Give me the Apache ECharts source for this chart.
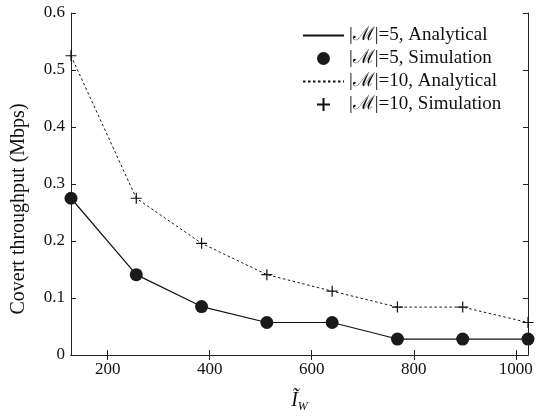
<!DOCTYPE html>
<html>
<head>
<meta charset="utf-8">
<script src="https://cdn.jsdelivr.net/npm/echarts@6/dist/echarts.min.js"></script>
<style>
  html, body { margin: 0; padding: 0; background: #fff; }
  #chart { width: 536px; height: 418px; }
</style>
</head>
<body>
<div id="chart"></div>
<script>
  // x values (I_w) and throughput values
  const xVals = [128, 256, 384, 512, 640, 768, 896, 1024]
  const m5 = [0.275, 0.141, 0.085, 0.057, 0.057, 0.028, 0.028, 0.028]
  const m10 = [0.525, 0.275, 0.196, 0.141, 0.112, 0.084, 0.084, 0.057]
  const xTicks = [200, 400, 600, 800, 1000]
  const names = ['|\u2133|=5, Analytical', '|\u2133|=5, Simulation', '|\u2133|=10, Analytical', '|\u2133|=10, Simulation']

  const pairs = arr => xVals.map((x, i) => [x, arr[i]])
  const font = 'Liberation Serif'
  const plus = 'path://M0,-1L0,1M-1,0L1,0'
  const axisColor = '#222'

  let chart = echarts.init(document.getElementById('chart'))
  chart.setOption({
    animation: false,
    textStyle: { fontFamily: font, color: '#111' },
    grid: { left: 71, right: 8, top: 13, bottom: 56 },
    legend: {
      orient: 'vertical',
      left: 297,
      top: 21,
      itemWidth: 41,
      itemHeight: 13,
      itemGap: 4,
      textStyle: { fontFamily: font, fontSize: 19, lineHeight: 19, color: '#111' },
      data: [
        { name: names[0], itemStyle: { opacity: 0 } },
        { name: names[1] },
        { name: names[2], itemStyle: { opacity: 0 } },
        { name: names[3] }
      ]
    },
    xAxis: [
      {
        type: 'value',
        min: 128,
        max: 1024,
        name: '{i|\u0128}{s|W}',
        nameLocation: 'middle',
        nameGap: 34,
        nameTextStyle: {
          rich: {
            i: { fontFamily: font, fontStyle: 'italic', fontSize: 20, color: '#111' },
            s: { fontFamily: font, fontStyle: 'italic', fontSize: 12, color: '#111', padding: [12, 0, 0, 0] }
          }
        },
        splitLine: { show: false },
        axisLine: { lineStyle: { color: axisColor, width: 1 } },
        axisTick: { inside: true, length: 5, customValues: xTicks, lineStyle: { color: axisColor } },
        axisLabel: { customValues: xTicks, formatter: v => String(v), fontFamily: font, fontSize: 17, color: '#111', margin: 6 }
      },
      {
        type: 'value',
        position: 'top',
        min: 128,
        max: 1024,
        splitLine: { show: false },
        axisLine: { lineStyle: { color: axisColor, width: 1 } },
        axisTick: { inside: true, length: 5, customValues: xTicks, lineStyle: { color: axisColor } },
        axisLabel: { show: false }
      }
    ],
    yAxis: [
      {
        type: 'value',
        min: 0,
        max: 0.6,
        interval: 0.1,
        name: 'Covert throughput (Mbps)',
        nameLocation: 'middle',
        nameGap: 42,
        nameTextStyle: { fontFamily: font, fontSize: 20, color: '#111', padding: [0, 50, 0, 0] },
        splitLine: { show: false },
        axisLine: { show: true, lineStyle: { color: axisColor, width: 1 } },
        axisTick: { show: true, inside: true, length: 5, lineStyle: { color: axisColor } },
        axisLabel: { formatter: v => String(v), fontFamily: font, fontSize: 17, color: '#111', margin: 6 }
      },
      {
        type: 'value',
        position: 'right',
        min: 0,
        max: 0.6,
        interval: 0.1,
        splitLine: { show: false },
        axisLine: { show: true, lineStyle: { color: axisColor, width: 1 } },
        axisTick: { show: true, inside: true, length: 5, lineStyle: { color: axisColor } },
        axisLabel: { show: false }
      }
    ],
    series: [
      {
        name: names[0],
        type: 'line',
        data: pairs(m5),
        showSymbol: false,
        symbol: 'none',
        lineStyle: { color: '#111', width: 1.2 },
        itemStyle: { color: 'rgba(0,0,0,0)', borderWidth: 0 },
        z: 2
      },
      {
        name: names[1],
        type: 'scatter',
        data: pairs(m5),
        symbol: 'circle',
        symbolSize: 13,
        itemStyle: { color: '#1a1a1a', opacity: 1 },
        z: 3
      },
      {
        name: names[2],
        type: 'line',
        data: pairs(m10),
        showSymbol: false,
        symbol: 'none',
        lineStyle: { color: '#111', width: 1, type: [2.5, 2.5] },
        itemStyle: { color: 'rgba(0,0,0,0)', borderWidth: 0 },
        z: 2
      },
      {
        name: names[3],
        type: 'scatter',
        data: pairs(m10),
        symbol: plus,
        symbolSize: 11,
        itemStyle: { color: 'none', borderColor: '#111', borderWidth: 1.2, opacity: 1 },
        z: 3
      }
    ]
  })
</script>
</body>
</html>
